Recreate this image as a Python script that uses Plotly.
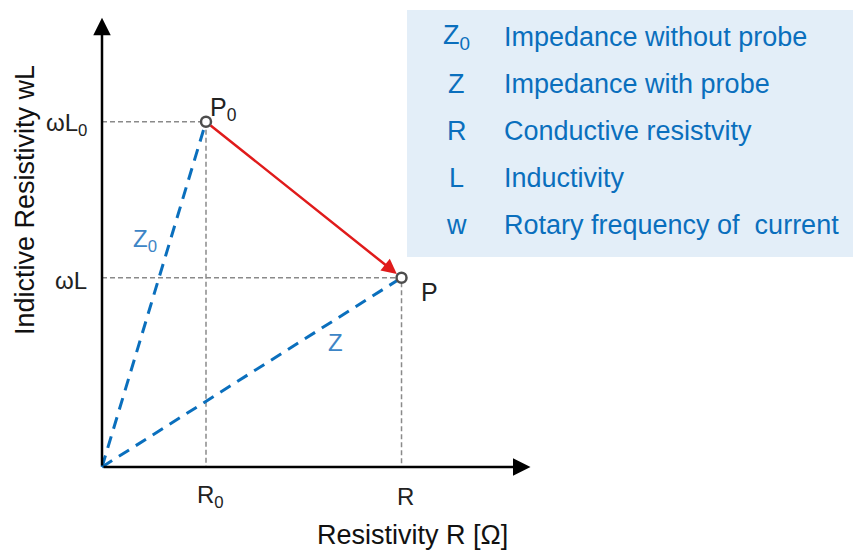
import plotly.graph_objects as go

# Data (arbitrary units)
R0_val = 1.0
R_val = 2.88
wL0_val = 3.32
wL_val = 1.82
x_axis_end = 4.12
y_axis_end = 4.32

tick_x_labels = ["R<sub>0</sub>", "R"]
tick_y_labels = ["ωL<sub>0</sub>", "ωL"]

legend_symbols = ["Z<sub>0</sub>", "Z", "R", "L", "w"]
legend_texts = ["Impedance without probe", "Impedance with probe",
                "Conductive resistvity", "Inductivity",
                "Rotary frequency of  current"]

# page body has 8px margin -> compensate
OFF = 8
PW, PH = 861, 550
W, H = PW - OFF, PH - OFF
scale = 104.0
ox, oy = 102 - OFF, 467 - OFF
xr = [-ox / scale, (W - ox) / scale]
yr = [-(H - oy) / scale, oy / scale]

FONT = "Liberation Sans, Arial, sans-serif"
BLUE = "#0a6fbd"
LBLUE = "#3d85c6"

fig = go.Figure()

gcol = "#8a8a8a"
for xv, yv in [(R0_val, wL0_val), (R_val, wL_val)]:
    fig.add_trace(go.Scatter(x=[0, xv, xv], y=[yv, yv, 0], mode="lines",
                             line=dict(color=gcol, width=1.5, dash="5px,3px"),
                             hoverinfo="skip", showlegend=False))

for xv, yv in [(R0_val, wL0_val), (R_val, wL_val)]:
    fig.add_trace(go.Scatter(x=[0, xv], y=[0, yv], mode="lines",
                             line=dict(color=BLUE, width=3, dash="12px,8px"),
                             hoverinfo="skip", showlegend=False))

annotations = []
annotations.append(dict(x=x_axis_end, y=0, ax=0, ay=0, xref="x", yref="y", axref="x", ayref="y",
                        showarrow=True, arrowhead=2, arrowsize=1.4, arrowwidth=2.5,
                        arrowcolor="black", text=""))
annotations.append(dict(x=0, y=y_axis_end, ax=0, ay=0, xref="x", yref="y", axref="x", ayref="y",
                        showarrow=True, arrowhead=2, arrowsize=1.4, arrowwidth=2.5,
                        arrowcolor="black", text=""))
annotations.append(dict(x=R_val, y=wL_val, ax=R0_val, ay=wL0_val, xref="x", yref="y",
                        axref="x", ayref="y", showarrow=True, arrowhead=2, arrowsize=1.2,
                        arrowwidth=2.5, arrowcolor="#e01b1b", standoff=6, startstandoff=4, text=""))

fig.add_trace(go.Scatter(x=[R0_val, R_val], y=[wL0_val, wL_val], mode="markers",
                         marker=dict(symbol="circle", size=10, color="white",
                                     line=dict(color="#4d4d4d", width=2.5)),
                         hoverinfo="skip", showlegend=False))

for xv, lab in zip([R0_val, R_val], tick_x_labels):
    annotations.append(dict(x=xv, y=0, xref="x", yref="y", text=lab, showarrow=False,
                            xanchor="center", yanchor="middle",
                            yshift=-29, xshift=4,
                            font=dict(family=FONT, size=24, color="#222222")))
for yv, lab in zip([wL0_val, wL_val], tick_y_labels):
    annotations.append(dict(x=0, y=yv, xref="x", yref="y", text=lab, showarrow=False,
                            xanchor="right", yanchor="middle", xshift=-13, yshift=-3,
                            font=dict(family=FONT, size=24, color="#222222")))

annotations.append(dict(x=R0_val, y=wL0_val, xref="x", yref="y", text="P<sub>0</sub>",
                        showarrow=False, xanchor="left", yanchor="middle", xshift=2, yshift=13,
                        font=dict(family=FONT, size=25, color="#222222")))
annotations.append(dict(x=R_val, y=wL_val, xref="x", yref="y", text="P",
                        showarrow=False, xanchor="left", yanchor="middle", xshift=17, yshift=-14,
                        font=dict(family=FONT, size=25, color="#222222")))
annotations.append(dict(x=R0_val * 0.41, y=wL0_val * 0.655, xref="x", yref="y",
                        text="Z<sub>0</sub>", showarrow=False,
                        xanchor="center", yanchor="middle",
                        font=dict(family=FONT, size=24, color=LBLUE)))
annotations.append(dict(x=R_val * 0.78, y=wL_val * 0.66, xref="x", yref="y",
                        text="Z", showarrow=False,
                        xanchor="center", yanchor="middle",
                        font=dict(family=FONT, size=24, color=LBLUE)))

annotations.append(dict(x=25, y=200, xref="paper", yref="paper", text="Indictive Resistivity wL",
                        showarrow=False, textangle=-90, xanchor="center", yanchor="middle",
                        font=dict(family=FONT, size=27, color="#111111")))
annotations.append(dict(x=412, y=535, xref="paper", yref="paper", text="Resistivity R [Ω]",
                        showarrow=False, xanchor="center", yanchor="middle",
                        font=dict(family=FONT, size=27, color="#111111")))

row_y = [37, 84, 131, 178, 225]
for yy, sym, txt in zip(row_y, legend_symbols, legend_texts):
    annotations.append(dict(x=457, y=yy, xref="paper", yref="paper", text=sym,
                            showarrow=False, font=dict(family=FONT, size=27, color=BLUE),
                            xanchor="center", yanchor="middle"))
    annotations.append(dict(x=502, y=yy, xref="paper", yref="paper", text=txt,
                            showarrow=False, font=dict(family=FONT, size=27, color=BLUE),
                            xanchor="left", yanchor="middle"))

# convert page-pixel paper coords into fractions
for a in annotations:
    if a.get("xref") == "paper":
        a["x"] = (a["x"] - OFF) / W
        a["y"] = 1 - (a["y"] - OFF) / H

fig.update_layout(
    width=W, height=H,
    margin=dict(l=0, r=0, t=0, b=0),
    paper_bgcolor="white", plot_bgcolor="white",
    xaxis=dict(range=xr, visible=False, fixedrange=True),
    yaxis=dict(range=yr, visible=False, fixedrange=True),
    shapes=[dict(type="rect", xref="paper", yref="paper",
                 x0=(407 - OFF) / W, x1=(860 - OFF) / W,
                 y0=1 - (257 - OFF) / H, y1=1 - (10 - OFF) / H,
                 fillcolor="#e3eef8", line=dict(width=0), layer="below")],
    annotations=annotations,
    showlegend=False,
)

fig.write_html("out.html")
